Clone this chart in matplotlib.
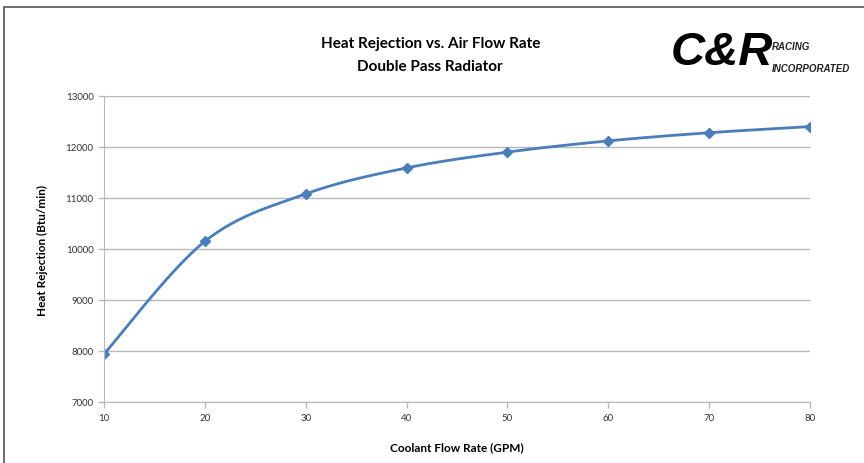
import numpy as np
import matplotlib.pyplot as plt
from matplotlib.patches import Rectangle

# Data
flow_gpm = [10, 20, 30, 40, 50, 60, 70, 80]
heat_rejection = [7940, 10150, 11080, 11590, 11900, 12120, 12280, 12400]
y_ticks = [7000, 8000, 9000, 10000, 11000, 12000, 13000]

LINE_COLOR = "#4a7ebb"
GRID_COLOR = "#b8b8b8"
plt.rcParams['font.family'] = ['Lato', 'DejaVu Sans']


def smooth_curve(x, y, steps=30):
    # Excel-style smoothed line: cubic Bezier through the points with
    # Catmull-Rom control points (tension 1/6)
    x = np.asarray(x, float)
    y = np.asarray(y, float)
    px = np.concatenate([[x[0]], x, [x[-1]]])
    py = np.concatenate([[y[0]], y, [y[-1]]])
    xs, ys = [], []
    t = np.linspace(0, 1, steps)
    for i in range(1, len(px) - 2):
        p0 = np.array([px[i], py[i]])
        p3 = np.array([px[i + 1], py[i + 1]])
        c1 = p0 + (np.array([px[i + 1], py[i + 1]]) - np.array([px[i - 1], py[i - 1]])) / 6
        c2 = p3 - (np.array([px[i + 2], py[i + 2]]) - np.array([px[i], py[i]])) / 6
        b = ((1 - t) ** 3)[:, None] * p0 + (3 * (1 - t) ** 2 * t)[:, None] * c1 \
            + (3 * (1 - t) * t ** 2)[:, None] * c2 + (t ** 3)[:, None] * p3
        xs.extend(b[:, 0])
        ys.extend(b[:, 1])
    return xs, ys


fig = plt.figure(figsize=(8.64, 4.64), dpi=100)
ax = fig.add_axes([104 / 864, 61 / 464, 706 / 864, 306 / 464])

sx, sy = smooth_curve(flow_gpm, heat_rejection)
ax.plot(sx, sy, color=LINE_COLOR, linewidth=2)
ax.plot(flow_gpm, heat_rejection, linestyle="none", marker="D", markersize=5,
        color=LINE_COLOR)

ax.set_xlim(10, 80)
ax.set_ylim(7000, 13000)
ax.set_xticks(flow_gpm)
ax.set_yticks(y_ticks)
ax.yaxis.grid(True, color=GRID_COLOR, linewidth=1)
ax.set_axisbelow(True)
for side in ["top", "right"]:
    ax.spines[side].set_visible(False)
for side in ["left", "bottom"]:
    ax.spines[side].set_color(GRID_COLOR)
ax.tick_params(axis="both", labelsize=7, colors=GRID_COLOR, labelcolor="#333333",
               length=4, width=1)
ax.tick_params(axis="x", pad=4)

ax.set_xlabel("Coolant Flow Rate (GPM)", fontsize=8.5, fontweight="bold", labelpad=14)
ax.set_ylabel("Heat Rejection (Btu/min)", fontsize=8.5, fontweight="bold", labelpad=13)

fig.text(0.498, 0.905, "Heat Rejection vs. Air Flow Rate", ha="center", va="center",
         fontsize=11, fontweight="bold")
fig.text(0.498, 0.856, "Double Pass Radiator", ha="center", va="center",
         fontsize=11, fontweight="bold")

# Logo in the top right corner
logo_font = ['Liberation Sans', 'DejaVu Sans']
fig.text(0.776, 0.885, "C&R", fontsize=34, fontweight="bold", style="italic",
         family=logo_font, ha="left", va="center", color="black")
fig.text(0.893, 0.898, "RACING", fontsize=7, fontweight="bold", style="italic",
         family=logo_font, ha="left", va="center", color="#222222")
fig.text(0.893, 0.852, "INCORPORATED", fontsize=7, fontweight="bold", style="italic",
         family=logo_font, ha="left", va="center", color="#222222")

# Chart border
fig.patches.append(Rectangle((4 / 864, -0.05), 1.0, (464 - 8) / 464 + 0.05,
                             transform=fig.transFigure, fill=False,
                             edgecolor="#555555", linewidth=1.2))

fig.savefig("out.png", dpi=100)
